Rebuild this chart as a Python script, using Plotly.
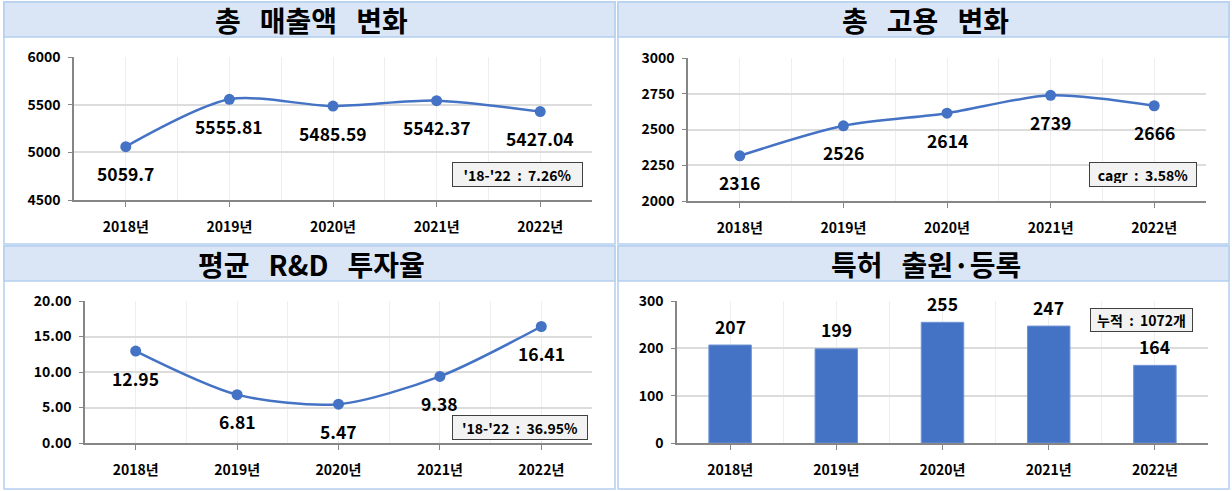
import plotly.graph_objects as go

W, H = 1232, 491

years = ["2018년", "2019년", "2020년", "2021년", "2022년"]
sales = [5059.7, 5555.81, 5485.59, 5542.37, 5427.04]
employment = [2316, 2526, 2614, 2739, 2666]
rnd_rate = [12.95, 6.81, 5.47, 9.38, 16.41]
patents = [207, 199, 255, 247, 164]

GAP = "\u00a0" * 3
titles = ["총" + GAP + "매출액" + GAP + "변화", "총" + GAP + "고용" + GAP + "변화",
          "평균" + GAP + "R&D" + GAP + "투자율", "특허" + GAP + "출원·등록"]
notes = ["'18-'22  :  7.26%", "cagr  :  3.58%", "'18-'22  :  36.95%", "누적  :  1072개"]

FONT = "Noto Sans CJK KR"
BLUE = "#4472c4"
AXIS = "#868686"


def px(x):
    return x / W


def py(y):
    return 1 - y / H


# panel frames (left, top, right, bottom) and plot areas in pixels
frames = [(4, 2, 615, 244), (618, 2, 1229, 244), (4, 246, 615, 489), (618, 246, 1229, 489)]
plots = [(74, 57, 592, 200), (688, 58, 1206, 201), (85, 301, 592, 443), (677, 301, 1208, 443)]
yranges = [(4500, 6000, 500, None), (2000, 3000, 250, None), (0, 20, 5, ".2f"), (0, 300, 100, None)]
# note boxes: centre x, centre y, width, height
note_boxes = [(517, 174, 131, 25), (1143, 174, 108, 25), (520, 427, 136, 25), (1141, 320, 103, 24)]

fig = go.Figure()
x_idx = list(range(len(years)))

series = [sales, employment, rnd_rate]
for i, vals in enumerate(series):
    ax = "" if i == 0 else str(i + 1)
    fig.add_trace(go.Scatter(
        x=x_idx, y=vals, mode="lines+markers",
        line=dict(color=BLUE, width=2.5, shape="spline", smoothing=0.8),
        marker=dict(color=BLUE, size=11),
        xaxis="x" + ax, yaxis="y" + ax, showlegend=False, hoverinfo="skip"))
    for xi, v in zip(x_idx, vals):
        fig.add_annotation(x=xi, y=v, xref="x" + ax, yref="y" + ax, text=str(v),
                           showarrow=False, yshift=-27,
                           font=dict(family=FONT, size=17.5, color="#000000", weight="bold"))

fig.add_trace(go.Bar(
    x=x_idx, y=patents, width=0.4, marker=dict(color=BLUE, line=dict(color="#6f93d6", width=1)),
    xaxis="x4", yaxis="y4", showlegend=False, hoverinfo="skip"))
for xi, v in zip(x_idx, patents):
    fig.add_annotation(x=xi, y=v, xref="x4", yref="y4", text=str(v),
                       showarrow=False, yshift=19,
                       font=dict(family=FONT, size=17.5, color="#000000", weight="bold"))

shapes = []
for (l, t, r, b) in frames:
    shapes.append(dict(type="rect", xref="paper", yref="paper",
                       x0=px(l), x1=px(r), y0=py(b), y1=py(t),
                       line=dict(color="#b4cff0", width=1.5), fillcolor="rgba(0,0,0,0)", layer="below"))
    shapes.append(dict(type="rect", xref="paper", yref="paper",
                       x0=px(l), x1=px(r), y0=py(t + 35), y1=py(t),
                       line=dict(color="#b4cff0", width=1.5), fillcolor="#dae6f6", layer="below"))

for i, ((l, t, r, b), title) in enumerate(zip(frames, titles)):
    fig.add_annotation(x=px((l + r) / 2 + 2), y=py(t + 18), xref="paper", yref="paper",
                       text=title, showarrow=False, xanchor="center", yanchor="middle",
                       font=dict(family=FONT, size=28, color="#000000", weight="bold"))

for (cx, cy, bw, bh), note in zip(note_boxes, notes):
    fig.add_annotation(x=px(cx), y=py(cy), xref="paper", yref="paper", text=note,
                       showarrow=False, xanchor="center", yanchor="middle",
                       width=bw - 8, height=bh - 8, align="center", valign="middle",
                       bgcolor="#f2f2f2", bordercolor="#404040", borderwidth=1, borderpad=3,
                       font=dict(family=FONT, size=14, color="#000000", weight="bold"))

layout = dict(width=W, height=H, margin=dict(l=0, r=0, t=0, b=0, autoexpand=False),
              paper_bgcolor="white", plot_bgcolor="white", shapes=shapes,
              font=dict(family=FONT, color="#000000"), bargap=0.6)

for i, ((l, t, r, b), (y0, y1, dy, fmt)) in enumerate(zip(plots, yranges)):
    ax = "" if i == 0 else str(i + 1)
    layout["xaxis" + ax] = dict(
        domain=[px(l), px(r)], range=[-0.5, 4.5], anchor="y" + ax,
        tickmode="array", tickvals=x_idx, ticktext=years,
        showline=True, linecolor=AXIS, linewidth=1.5,
        ticks="outside", ticklen=5, tickcolor=AXIS, tickwidth=1,
        showgrid=True, gridcolor="#eeeeee", gridwidth=1,
        minor=dict(tickmode="array", tickvals=[0.5, 1.5, 2.5, 3.5, 4.5],
                   showgrid=True, gridcolor="#eeeeee", ticks=""),
        ticklabelstandoff=8, fixedrange=True, zeroline=False, automargin=False,
        tickfont=dict(family=FONT, size=14, color="#000000", weight="bold"))
    layout["yaxis" + ax] = dict(
        domain=[py(b), py(t)], range=[y0, y1], dtick=dy, tick0=y0, anchor="x" + ax,
        tickformat=fmt if fmt else "d",
        showline=True, linecolor=AXIS, linewidth=1.5,
        ticks="outside", ticklen=4, tickcolor=AXIS,
        showgrid=True, gridcolor="#dcdcdc", gridwidth=1.5, zeroline=False,
        ticklabelstandoff=5, fixedrange=True, automargin=False,
        tickfont=dict(family=FONT, size=14, color="#000000", weight="bold"))

fig.update_layout(**layout)
fig.write_html("out.html")
